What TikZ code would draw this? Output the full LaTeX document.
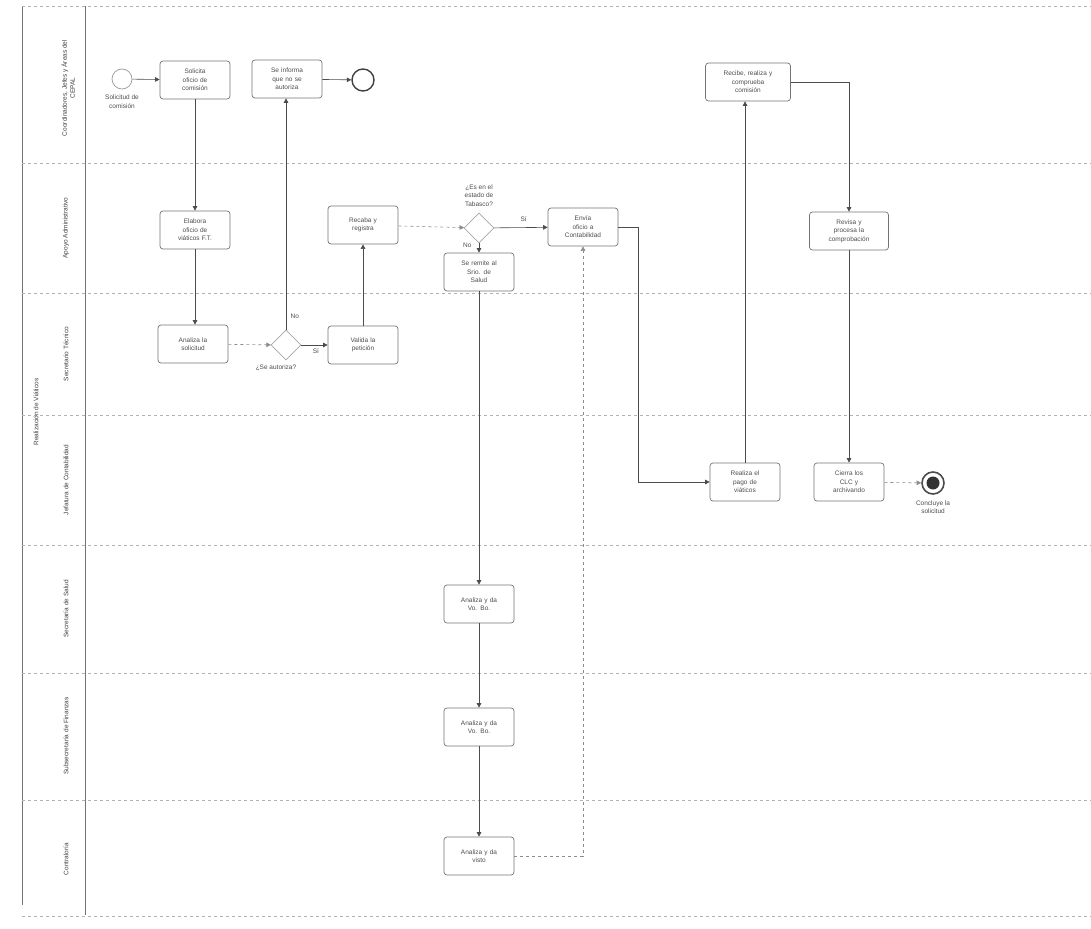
\documentclass[tikz,border=0pt]{standalone}
\usepackage{fontspec}
\setmainfont{Liberation Sans}
\usetikzlibrary{arrows.meta,shapes.geometric,positioning}
\begin{document}
\begin{tikzpicture}[x=1pt,y=-1pt,
  task/.style={draw=black!55, line width=0.7pt, rounded corners=3pt, minimum width=70pt, minimum height=38pt,
    align=center, font=\fontsize{6.5}{8.5}\selectfont, text=black!70, inner sep=1pt, text width=64pt},
  flow/.style={draw=black!70, line width=0.6pt, -{Triangle[length=4.5pt,width=4.5pt]}},
  dflow/.style={draw=black!45, line width=0.6pt, dashed, -{Triangle[length=4.5pt,width=4.5pt]}},
  gw/.style={diamond, draw=black!35, line width=0.6pt, minimum width=30pt, minimum height=30pt, inner sep=0pt},
  lab/.style={font=\fontsize{6.5}{8.5}\selectfont, text=black!70, align=center},
  lanelab/.style={rotate=90, font=\fontsize{6.5}{8}\selectfont, text=black!75, align=center},
  laneline/.style={draw=black!30, dashed, line width=0.6pt},
  border/.style={draw=black!55, line width=0.8pt},
  startev/.style={circle, draw=black!40, line width=0.7pt, minimum size=20pt, inner sep=0pt},
  endev/.style={circle, draw=black!75, line width=1.4pt, minimum size=22pt, inner sep=0pt},
  termev/.style={circle, draw=black!70, line width=1.6pt, minimum size=22pt, inner sep=0pt}
]
\useasboundingbox (0,0) rectangle (1091,928);

% pool and lanes
\draw[border] (22,6) -- (22,905);
\draw[border] (85,6) -- (85,915);
\foreach \yy in {6,163,293,415,545,673,800,916}{
  \draw[laneline] (22,\yy) -- (1091,\yy);
}
\node[lanelab] (pool) at (36,412) {Realización de Viáticos};
\node[lanelab] (l1) at (68,88) {Coordinadores, Jefes y Áreas del\\CEPAL};
\node[lanelab] (l2) at (66,228) {Apoyo Administrativo};
\node[lanelab] (l3) at (66,354) {Secretario Técnico};
\node[lanelab] (l4) at (66,480) {Jefatura de Contabilidad};
\node[lanelab] (l5) at (66,609) {Secretaría de Salud};
\node[lanelab] (l6) at (66,736) {Subsecretaría de Finanzas};
\node[lanelab] (l7) at (66,859) {Contraloría};

% lane 1
\node[startev] (start) at (122,79) {};
\node[lab, below=2pt of start] (startlab) {Solicitud de\\comisión};
\node[task] (t1) at (195,80) {Solicita\\oficio de\\comisión};
\node[task] (t2) at (287,79) {Se informa\\que no se\\autoriza};
\node[endev] (end1) at (363,80) {};
\node[task, minimum width=85pt, text width=80pt] (recibe) at (748,82) {Recibe, realiza y\\comprueba\\comisión};

% lane 2
\node[task] (elabora) at (195,230) {Elabora\\oficio de\\viáticos F.T.};
\node[task] (recaba) at (363,225) {Recaba y\\registra};
\node[gw] (gw2) at (479,228) {};
\node[lab, above=3pt of gw2] (gw2lab) {¿Es en el\\estado de\\Tabasco?};
\node[task] (envia) at (583,227) {Envía\\oficio a\\Contabilidad};
\node[task] (remite) at (479,272) {Se remite al\\Srio. de\\Salud};
\node[task, minimum width=79pt, text width=74pt] (revisa) at (849,231) {Revisa y\\procesa la\\comprobación};

% lane 3
\node[task] (analiza) at (193,344) {Analiza la\\solicitud};
\node[gw] (gw1) at (286,345) {};
\node[lab, below=1pt of gw1, xshift=-10pt] (gw1lab) {¿Se autoriza?};
\node[task] (valida) at (363,345) {Valida la\\petición};

% lane 4
\node[task] (pago) at (745,482) {Realiza el\\pago de\\viáticos};
\node[task] (cierra) at (849,482) {Cierra los\\CLC y\\archivando};
\node[termev] (end2) at (933,483) {};
\fill[black!80] (end2.center) circle (6.5pt);
\node[lab, below=2pt of end2] (end2lab) {Concluye la\\solicitud};

% lanes 5-7
\node[task] (salud) at (479,604) {Analiza y da\\Vo. Bo.};
\node[task] (finanzas) at (479,727) {Analiza y da\\Vo. Bo.};
\node[task] (contra) at (479,856) {Analiza y da\\visto};

% connectors
\draw[flow] (start) -- (t1);
\draw[flow] (t2) -- (end1);
\draw[flow] (t1) -- (elabora);
\draw[flow] (elabora) -- (analiza.north -| elabora);
\draw[dflow] (analiza) -- (gw1);
\draw[flow] (gw1.north) -- (gw1.north |- t2.south) node[lab, pos=0.06, right=1pt] (nolab1) {No};
\draw[flow] (gw1) -- (valida) node[lab, pos=0.3, below right=0pt] (silab1) {Sí};
\draw[flow] (valida) -- (recaba);
\draw[dflow] (recaba) -- (gw2);
\draw[flow] (gw2) -- (envia) node[lab, pos=0.55, above=2pt] (silab2) {Sí};
\draw[flow] (gw2) -- (remite) node[lab, pos=0.2, left=4pt] (nolab2) {No};
\draw[flow] (remite) -- (salud);
\draw[flow] (salud) -- (finanzas);
\draw[flow] (finanzas) -- (contra);
\draw[dflow] (contra.east) -| (envia.south);
\coordinate (c1) at (638,227);
\draw[flow] (envia.east) -- (c1) |- (pago.west);
\draw[flow] (pago.north) -- (pago.north |- recibe.south);
\draw[flow] (recibe.east) -| (revisa.north);
\draw[flow] (revisa) -- (cierra);
\draw[dflow] (cierra) -- (end2);
\end{tikzpicture}
\end{document}
